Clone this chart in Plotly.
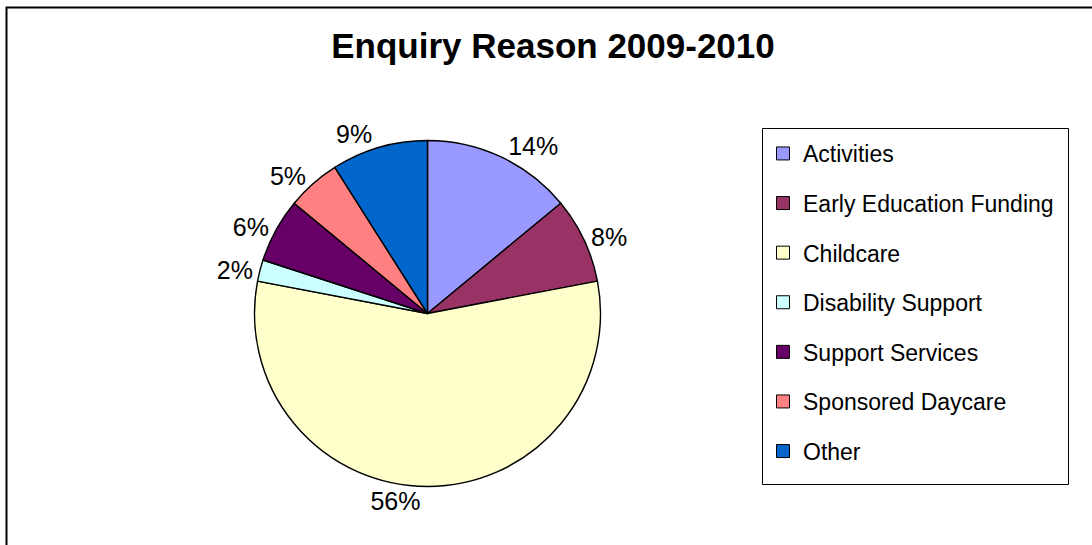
import plotly.graph_objects as go

W, H = 1092, 545

categories = ["Activities", "Early Education Funding", "Childcare", "Disability Support",
              "Support Services", "Sponsored Daycare", "Other"]
percent_values = [14, 8, 56, 2, 6, 5, 9]
slice_colors = ["#9999FF", "#993366", "#FFFFCC", "#CCFFFF", "#660066", "#FF8080", "#0066CC"]

FONT = "Arial, Liberation Sans, sans-serif"

fig = go.Figure()

# pie geometry in pixels
cx, cy, r = 427.5, 313.5, 173
fig.add_trace(go.Pie(
    labels=categories,
    values=percent_values,
    sort=False,
    direction="clockwise",
    rotation=0,
    marker=dict(colors=slice_colors, line=dict(color="black", width=1.4)),
    textinfo="percent",
    textposition="outside",
    texttemplate="%{percent:.0%}",
    outsidetextfont=dict(family=FONT, size=25, color="black"),
    showlegend=False,
    domain=dict(x=[(cx - r) / W, (cx + r) / W],
                y=[(H - cy - r) / H, (H - cy + r) / H]),
    hoverinfo="label+percent",
))

# legend entries (one group per category so spacing matches the original)
for name, col in zip(categories, slice_colors):
    fig.add_trace(go.Scatter(
        x=[None], y=[None], mode="markers", name=name, legendgroup=name,
        marker=dict(symbol="square", size=13, color=col, line=dict(color="black", width=1)),
        showlegend=True, hoverinfo="skip",
    ))

fig.update_layout(
    width=W, height=H,
    margin=dict(l=0, r=0, t=0, b=0),
    paper_bgcolor="white", plot_bgcolor="white",
    font=dict(family=FONT, color="black"),
    title=dict(text="<b>Enquiry Reason 2009-2010</b>", x=553 / W, xanchor="center",
               y=1 - 46 / H, yanchor="middle",
               font=dict(family=FONT, size=35, color="black")),
    xaxis=dict(visible=False), yaxis=dict(visible=False),
    legend=dict(x=763 / W, xanchor="left", y=1 - 132 / H, yanchor="top",
                borderwidth=0, bgcolor="rgba(0,0,0,0)",
                font=dict(family=FONT, size=23, color="black"),
                tracegroupgap=16.7, traceorder="grouped", itemclick=False),
    shapes=[
        dict(type="rect", xref="paper", yref="paper",
             x0=6.5 / W, x1=1.02, y0=-0.02, y1=1 - 7.5 / H,
             line=dict(color="black", width=2)),
        dict(type="rect", xref="paper", yref="paper",
             x0=762.5 / W, x1=1068.5 / W, y0=1 - 484.5 / H, y1=1 - 128.5 / H,
             line=dict(color="black", width=1), fillcolor="rgba(0,0,0,0)"),
    ],
)

fig.write_html("out.html")
